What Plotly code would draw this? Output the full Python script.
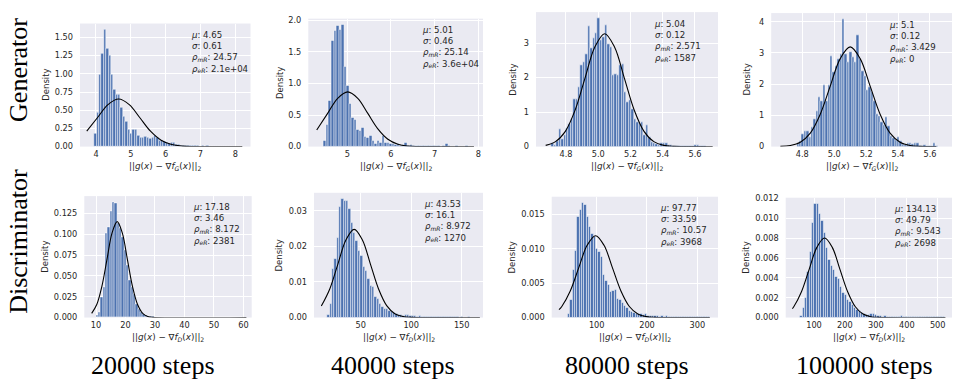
import plotly.graph_objects as go

# ---------------- data ----------------
steps = ["20000 steps", "40000 steps", "80000 steps", "100000 steps"]
row_names = ["Generator", "Discriminator"]

# histogram bins: first edge and bin width of each panel
gen_bin_start = [3.95, 4.46, 4.71, 4.765]
gen_bin_width = [0.0685, 0.058, 0.015, 0.015]
dis_bin_start = [10.0, 17.0, 42.0, 55.0]
dis_bin_width = [0.79, 2.32, 4.64, 7.55]

gen_20000_density = [0.18, 0.47, 0.99, 1.28, 1.61, 1.35, 1.25, 0.99, 0.79, 0.71, 0.71, 0.54, 0.41, 0.35,
                     0.24, 0.18, 0.24, 0.24, 0.15, 0.13, 0.13, 0.14, 0.13, 0.11, 0.13, 0.15, 0.12, 0.09,
                     0.08, 0.07, 0.06, 0.04, 0.05, 0.06, 0.03, 0.03,
                     0.02, 0.02, 0.015, 0.02, 0.01, 0.015, 0.01, 0.01, 0.005, 0.01, 0.005, 0.01, 0.005,
                     0.005, 0.003, 0.005, 0.003, 0.003, 0.002, 0.003, 0.002, 0.002, 0.002, 0.003, 0.001,
                     0.001]
gen_40000_density = [0.10, 0.35, 0.73, 1.68, 1.84, 1.91, 1.85, 1.93, 1.26, 0.97, 0.68, 0.46, 0.42, 0.27,
                     0.26, 0.30, 0.16, 0.14, 0.18, 0.10, 0.05, 0.09, 0.06, 0.17, 0.07, 0.06, 0.05, 0.04,
                     0.03, 0.04, 0.02, 0.03, 0.06, 0.02, 0.03, 0.02,
                     0.01, 0.02, 0.01, 0.02, 0.01, 0.01, 0.01, 0.01, 0.02, 0.01, 0.005, 0.01, 0.04,
                     0.01, 0.005, 0.005, 0.01, 0.005, 0.005, 0.005, 0.01, 0.005, 0.005]
gen_80000_density = [0.10, 0.05, 0.15, 0.51, 0.22, 0.34, 0.53, 0.66, 0.80, 1.38, 1.38, 1.72, 2.35, 2.45,
                     2.69, 3.48, 2.84, 3.13, 3.29, 3.71, 3.08, 3.18, 3.51, 2.98, 2.88, 2.06, 2.11, 2.06,
                     2.35, 2.38, 1.58, 1.29, 1.34, 1.09, 0.80, 0.71, 0.66, 0.71, 0.34, 0.61, 0.27, 0.13,
                     0.10, 0.08, 0.05, 0.10, 0.10, 0.10, 0.04,
                     0.03, 0.02, 0.01, 0.02, 0.01, 0.01, 0.01, 0.02, 0.01, 0.01, 0.05, 0.03, 0.01, 0.01, 0.01]
gen_100000_density = [0.10, 0.17, 0.40, 0.49, 0.51, 0.30, 0.62, 0.88, 1.15, 1.60,
                      1.47, 1.98, 1.47, 1.98, 2.90, 2.38, 2.59, 2.80, 2.96, 4.07,
                      2.96, 2.72, 3.01, 2.85, 2.69, 3.56, 2.80, 2.43, 2.27, 1.81,
                      1.89, 1.73, 1.47, 1.04, 0.99, 0.78, 0.70, 0.96, 0.67, 0.35,
                      0.28, 0.21, 0.30, 0.19, 0.09, 0.06, 0.10, 0.10, 0.08, 0.12,
                      0.12, 0.03, 0.02, 0.04, 0.02, 0.03, 0.02, 0.10, 0.03]

dis_20000_density = [0.003, 0.006, 0.024, 0.037, 0.101, 0.109, 0.128, 0.139, 0.138, 0.114, 0.108, 0.097,
                     0.081, 0.063, 0.045, 0.036, 0.028, 0.016, 0.010, 0.006, 0.004, 0.003, 0.002, 0.0015,
                     0.0012, 0.001,
                     0.0008, 0.0007, 0.0006, 0.0005, 0.0005, 0.0004, 0.0004, 0.0003, 0.0003, 0.0003,
                     0.0002, 0.0002, 0.0002, 0.0002, 0.0001, 0.0002, 0.0001, 0.0001, 0.0001, 0.0001,
                     0.0001, 0.0001, 0.0001, 0.00005, 0.0001, 0.00005, 0.00005, 0.00005, 0.0001, 0.00005,
                     0.00005, 0.00005, 0.00005, 0.00005, 0.00005, 0.00005, 0.00005]
dis_40000_density = [0.0008, 0.004, 0.0137, 0.0165, 0.0225, 0.0311, 0.0334, 0.0328, 0.0327, 0.0305,
                     0.0267, 0.0239, 0.0216, 0.0188, 0.0174, 0.0142, 0.0132, 0.0109, 0.0089, 0.0086,
                     0.0058, 0.0053, 0.0039, 0.0030, 0.0025, 0.0025, 0.0020, 0.0016, 0.0012, 0.0011,
                     0.0009, 0.0007, 0.0006, 0.0009, 0.0007, 0.0005,
                     0.0004, 0.0004, 0.0003, 0.0004, 0.0003, 0.0002, 0.0003, 0.0002, 0.0002, 0.0002,
                     0.0001, 0.0002, 0.0001, 0.0001, 0.0001, 0.0002, 0.0001, 0.0001, 0.0001, 0.0001,
                     0.00005, 0.0001, 0.00005, 0.00005, 0.0001, 0.00005, 0.00005, 0.00005]
dis_80000_density = [0.0005, 0.0026, 0.0070, 0.0097, 0.0147, 0.0157, 0.0167, 0.0164, 0.0147, 0.0132,
                     0.0121, 0.0118, 0.0100, 0.0096, 0.0088, 0.0062, 0.0053, 0.0047, 0.0037, 0.0039,
                     0.0040, 0.0028, 0.0026, 0.0021, 0.0017, 0.0014, 0.0010, 0.0009, 0.0007, 0.0005,
                     0.0005, 0.0006, 0.0004, 0.0006, 0.0003,
                     0.0002, 0.0002, 0.0003, 0.0002, 0.0001, 0.0002, 0.0001, 0.0003, 0.0001, 0.0001,
                     0.0001, 0.0001, 0.00005, 0.0001, 0.00005, 0.00005, 0.00005, 0.0001, 0.00005,
                     0.00005, 0.00005, 0.00005, 0.00005, 0.00005, 0.00005, 0.00005]
dis_100000_density = [0.0002, 0.0010, 0.0020, 0.0046, 0.0066, 0.0096, 0.0115, 0.0115, 0.0105, 0.0098,
                      0.0085, 0.0070, 0.0058, 0.0052, 0.0048, 0.0041, 0.0039, 0.0031, 0.0025, 0.0023,
                      0.0018, 0.0016, 0.0013, 0.0010, 0.0008, 0.0007, 0.0005, 0.0004, 0.0003, 0.0003,
                      0.0004, 0.0004, 0.0003,
                      0.0002, 0.0002, 0.0001, 0.0002, 0.0001, 0.0001, 0.0001, 0.0001, 0.0001, 0.0001,
                      0.0002, 0.0001, 0.00005, 0.0001, 0.00005, 0.00005, 0.00005, 0.00005, 0.00005,
                      0.00005, 0.00005, 0.00005, 0.00005, 0.00005, 0.00005, 0.00005, 0.00005, 0.00005,
                      0.00005]

# fitted normal curves
gen_20000_curve_x = [3.735, 4.04, 4.345, 4.65, 4.955, 5.26, 5.565, 5.87, 6.175, 6.48, 6.785, 7.09, 8.2]
gen_20000_curve_y = [0.2123, 0.3967, 0.5772, 0.6540, 0.5772, 0.3967, 0.2123, 0.0885, 0.0287, 0.0073,
                     0.0014, 0.0002, 0.0]
gen_40000_curve_x = [4.30, 4.55, 4.78, 5.01, 5.24, 5.47, 5.70, 5.93, 6.16, 6.39, 6.62, 6.85, 7.9]
gen_40000_curve_y = [0.2638, 0.5260, 0.7654, 0.8673, 0.7654, 0.5260, 0.2816, 0.1174, 0.0381, 0.0096,
                     0.0019, 0.0003, 0.0]
gen_80000_curve_x = [4.674, 4.735, 4.796, 4.857, 4.918, 4.979, 5.04, 5.101, 5.162, 5.223, 5.284, 5.345,
                     5.406, 5.467, 5.528, 5.71]
gen_80000_curve_y = [0.0363, 0.1437, 0.4425, 1.0616, 1.983, 2.886, 3.270, 2.886, 1.983, 1.0616, 0.4425,
                     0.1437, 0.0363, 0.0072, 0.0011, 0.0]
gen_100000_curve_x = [4.6625, 4.725, 4.7875, 4.85, 4.9125, 4.975, 5.0375, 5.1, 5.1625, 5.225, 5.2875,
                      5.35, 5.4125, 5.475, 5.5375, 5.64]
gen_100000_curve_y = [0.0070, 0.0355, 0.1402, 0.4319, 1.0362, 1.9358, 2.8166, 3.1915, 2.8166, 1.9358,
                      1.0362, 0.4319, 0.1402, 0.0355, 0.0070, 0.0]
dis_20000_curve_x = [8.53, 10.26, 11.99, 13.72, 15.45, 17.18, 18.91, 20.64, 22.37, 24.10, 25.83, 27.56,
                     29.29, 61.0]
dis_20000_curve_y = [0.00507, 0.0156, 0.03743, 0.06993, 0.10175, 0.1153, 0.10175, 0.06993, 0.03743,
                     0.0156, 0.00507, 0.00128, 0.00025, 0.0]
dis_40000_curve_x = [11.0, 19.38, 27.43, 35.48, 43.53, 51.58, 59.63, 67.68, 75.73, 83.78, 91.83, 99.88,
                     107.93, 168.0]
dis_40000_curve_y = [0.00322, 0.008045, 0.01503, 0.02187, 0.02478, 0.02187, 0.01503, 0.008045, 0.003353,
                     0.001089, 0.000275, 0.000054, 0.000008, 0.0]
dis_80000_curve_x = [25.0, 30.59, 47.39, 64.18, 80.98, 97.77, 114.57, 131.36, 148.16, 164.95, 181.75,
                     198.54, 215.3, 325.0]
dis_80000_curve_y = [0.00114, 0.001607, 0.003856, 0.007204, 0.010481, 0.011877, 0.010481, 0.007204,
                     0.003856, 0.001607, 0.000522, 0.000132, 0.000026, 0.0]
dis_100000_curve_x = [30.0, 34.55, 59.45, 84.34, 109.24, 134.13, 159.03, 183.92, 208.82, 233.71, 258.61,
                      283.5, 308.4, 525.0]
dis_100000_curve_y = [0.0009, 0.001084, 0.002601, 0.00486, 0.007071, 0.008012, 0.007071, 0.00486,
                      0.002601, 0.001084, 0.000352, 0.000089, 0.0000175, 0.0]

# statistics printed in each panel
gen_mu = ["4.65", "5.01", "5.04", "5.1"]
gen_sigma = ["0.61", "0.46", "0.12", "0.12"]
gen_rho_mR = ["24.57", "25.14", "2.571", "3.429"]
gen_rho_eR = ["2.1e+04", "3.6e+04", "1587", "0"]
dis_mu = ["17.18", "43.53", "97.77", "134.13"]
dis_sigma = ["3.46", "16.1", "33.59", "49.79"]
dis_rho_mR = ["8.172", "8.972", "10.57", "9.543"]
dis_rho_eR = ["2381", "1270", "3968", "2698"]

# axis tick settings
gen_x_dtick = [1, 1, 0.2, 0.2]
gen_x_fmt = ["d", "d", ".1f", ".1f"]
gen_y_dtick = [0.25, 0.5, 1, 1]
gen_y_fmt = [".2f", ".1f", "d", "d"]
dis_x_dtick = [10, 50, 100, 100]
dis_x_fmt = ["d", "d", "d", "d"]
dis_y_dtick = [0.025, 0.01, 0.005, 0.002]
dis_y_fmt = [".3f", ".2f", ".3f", ".3f"]

# ---------------- layout geometry (pixels) ----------------
W, H = 954, 388
# (left, right, top, bottom) of each plot area
boxes = [
    (80, 250.5, 20, 146), (308.3, 483, 15, 146), (536, 718, 8.3, 146), (771.2, 952, 9.3, 146),
    (84.3, 251.7, 196.7, 321), (314, 483, 193.3, 321), (551.7, 718, 197.3, 321), (785.7, 952, 198.3, 321),
]
x_ranges = [(3.541, 8.436), (4.107, 8.108), (4.614, 5.743), (4.605, 5.738),
            (6.03, 62.8), (3.76, 171.1), (10.5, 341.2), (8.5, 546.2)]
density_label_x = [45.7, 279.3, 513.3, 746.7, 45, 279.3, 512.3, 746]

BLUE = "#4C72B0"
BG = "#EAEAF2"
TXT = "#262626"
FONT = "DejaVu Sans"
SERIF = "Liberation Serif"


def px(x):
    return x / W


def py(y):
    return 1 - y / H


panels = []
gen_dens = [gen_20000_density, gen_40000_density, gen_80000_density, gen_100000_density]
dis_dens = [dis_20000_density, dis_40000_density, dis_80000_density, dis_100000_density]
gen_cx = [gen_20000_curve_x, gen_40000_curve_x, gen_80000_curve_x, gen_100000_curve_x]
gen_cy = [gen_20000_curve_y, gen_40000_curve_y, gen_80000_curve_y, gen_100000_curve_y]
dis_cx = [dis_20000_curve_x, dis_40000_curve_x, dis_80000_curve_x, dis_100000_curve_x]
dis_cy = [dis_20000_curve_y, dis_40000_curve_y, dis_80000_curve_y, dis_100000_curve_y]
for j in range(4):
    panels.append(dict(start=gen_bin_start[j], width=gen_bin_width[j], dens=gen_dens[j],
                       cx=gen_cx[j], cy=gen_cy[j], mu=gen_mu[j], sigma=gen_sigma[j],
                       rmr=gen_rho_mR[j], rer=gen_rho_eR[j], xd=gen_x_dtick[j], xf=gen_x_fmt[j],
                       yd=gen_y_dtick[j], yf=gen_y_fmt[j], sub="G"))
for j in range(4):
    panels.append(dict(start=dis_bin_start[j], width=dis_bin_width[j], dens=dis_dens[j],
                       cx=dis_cx[j], cy=dis_cy[j], mu=dis_mu[j], sigma=dis_sigma[j],
                       rmr=dis_rho_mR[j], rer=dis_rho_eR[j], xd=dis_x_dtick[j], xf=dis_x_fmt[j],
                       yd=dis_y_dtick[j], yf=dis_y_fmt[j], sub="D"))

fig = go.Figure()
annotations = []
layout = {}

for i, p in enumerate(panels):
    n = i + 1
    xa = "x" if n == 1 else f"x{n}"
    ya = "y" if n == 1 else f"y{n}"
    centers = [p["start"] + p["width"] * (k + 0.5) for k in range(len(p["dens"]))]
    fig.add_trace(go.Bar(x=centers, y=p["dens"], width=p["width"], xaxis=xa, yaxis=ya,
                         marker=dict(color=BLUE, line=dict(color="white", width=0.5)),
                         showlegend=False, hoverinfo="skip"))
    fig.add_trace(go.Scatter(x=p["cx"], y=p["cy"], mode="lines", xaxis=xa, yaxis=ya,
                             line=dict(color="black", width=1.1, shape="spline", smoothing=1.0),
                             showlegend=False, hoverinfo="skip"))
    l, r, t, b = boxes[i]
    ymax = 1.05 * max(max(p["dens"]), max(p["cy"]))
    xkey = "xaxis" if n == 1 else f"xaxis{n}"
    ykey = "yaxis" if n == 1 else f"yaxis{n}"
    layout[xkey] = dict(domain=[px(l), px(r)], range=list(x_ranges[i]), anchor=ya,
                        tickmode="linear", tick0=0, dtick=p["xd"], tickformat=p["xf"],
                        showgrid=True, gridcolor="white", gridwidth=1, zeroline=False,
                        showline=False, ticks="", ticklabelstandoff=1,
                        tickfont=dict(family=FONT, size=8.2, color=TXT))
    layout[ykey] = dict(domain=[py(b), py(t)], range=[0, ymax], anchor=xa,
                        tickmode="linear", tick0=0, dtick=p["yd"], tickformat=p["yf"],
                        showgrid=True, gridcolor="white", gridwidth=1, zeroline=False,
                        showline=False, ticks="", ticklabelstandoff=6,
                        tickfont=dict(family=FONT, size=8.2, color=TXT))
    # Density label
    annotations.append(dict(text="Density", x=px(density_label_x[i]), y=py((t + b) / 2),
                            xref="paper", yref="paper", showarrow=False, textangle=-90,
                            xanchor="center", yanchor="middle",
                            font=dict(family=FONT, size=8.5, color=TXT)))
    # x title
    xt = (f"||<i>g</i>(<i>x</i>) − ∇<i>f</i><sub><i>{p['sub']}</i></sub>(<i>x</i>)||<sub>2</sub>")
    annotations.append(dict(text=xt, x=px((l + r) / 2), y=py(b + 20.5),
                            xref="paper", yref="paper", showarrow=False,
                            xanchor="center", yanchor="middle",
                            font=dict(family=FONT, size=8.8, color=TXT)))
    # statistics block
    stats = (f"<i>μ</i>: {p['mu']}<br><i>σ</i>: {p['sigma']}<br>"
             f"<i>ρ</i><sub><i>mR</i></sub>: {p['rmr']}<br>"
             f"<i>ρ</i><sub><i>eR</i></sub>: {p['rer']}")
    x0 = l + 0.65 * (r - l)
    y0 = t + 0.1 * (b - t)
    annotations.append(dict(text=stats, x=px(x0), y=py(y0 + 16.3), xref="paper",
                            yref="paper", showarrow=False, xanchor="left", align="left",
                            yanchor="middle", borderpad=0, borderwidth=0,
                            font=dict(family=FONT, size=8.6, color=TXT)))

# row labels
for name, yc in zip(row_names, [67.5, 243.5]):
    annotations.append(dict(text=name, x=px(19), y=py(yc), xref="paper", yref="paper",
                            showarrow=False, textangle=-90, xanchor="center",
                            yanchor="middle", font=dict(family=SERIF, size=26, color="black")))
# column labels
for name, xc in zip(steps, [153, 393, 627, 864]):
    annotations.append(dict(text=name, x=px(xc), y=py(370), xref="paper", yref="paper",
                            showarrow=False, xanchor="center", yanchor="middle",
                            font=dict(family=SERIF, size=26, color="black")))

fig.update_layout(width=W, height=H, margin=dict(l=0, r=0, t=0, b=0),
                  paper_bgcolor="white", plot_bgcolor=BG, bargap=0,
                  annotations=annotations, **layout)

fig.write_html("out.html", config={"displayModeBar": False},
               post_script="document.body.style.margin='0';document.body.style.overflow='hidden';")
